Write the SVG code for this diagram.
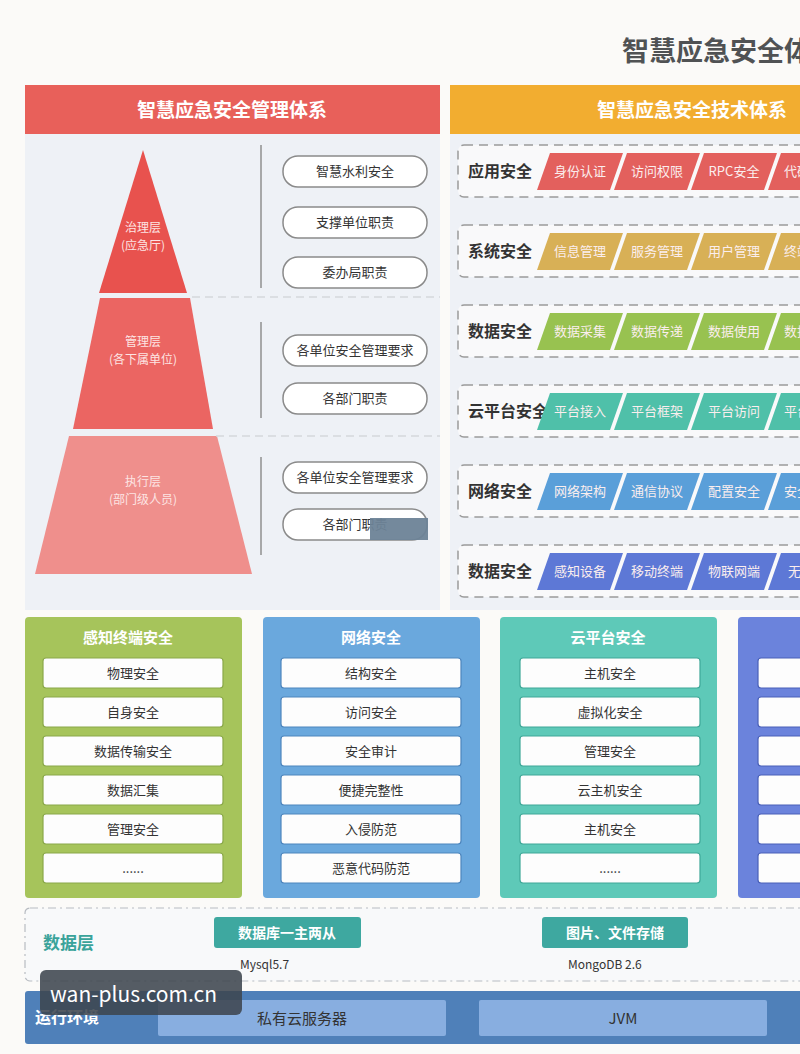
<svg xmlns="http://www.w3.org/2000/svg" width="800" height="1054" viewBox="0 0 800 1054">
<defs>
<style>
text{font-family:"Noto Sans CJK SC","Noto Sans",sans-serif;}
.hdr{font-size:19px;font-weight:bold;fill:#ffffff;text-anchor:middle;}
.pill{fill:#ffffff;stroke:#8a8a8a;stroke-width:1.5;}
.pt{font-size:13px;fill:#333;text-anchor:middle;}
.pyt{font-size:12px;fill:#fde4e3;text-anchor:middle;}
.vl{stroke:#8f8f8f;stroke-width:1.5;}
.hd{stroke:#d5d7dc;stroke-width:1.5;stroke-dasharray:8 5;}
.dbox{fill:#f9f9fa;stroke:#9a9a9a;stroke-width:1.5;stroke-dasharray:9 6;}
.rl{font-size:16px;font-weight:bold;fill:#333;}
.ct{font-size:13px;fill:#fbeeee;text-anchor:middle;}
.cs{font-size:13px;fill:#fbeeee;}
.ptl{font-size:15px;font-weight:bold;fill:#ffffff;text-anchor:middle;}
.ib{fill:#fdfdfd;stroke-width:1.2;}
.it{font-size:13px;fill:#333;text-anchor:middle;}
</style>
</defs>
<rect x="0" y="0" width="800" height="1054" fill="#fbfaf8"/>
<text x="622" y="61" font-size="27" font-weight="bold" fill="#505254">智慧应急安全体</text>

<!-- left management panel -->
<g id="mgmt-panel">
<rect x="25" y="134" width="415" height="476" fill="#eef1f6"/>
<rect x="25" y="85" width="415" height="49" fill="#e8605a"/>
<text x="232" y="117" class="hdr">智慧应急安全管理体系</text>
</g>
<g id="pyramid">
<polygon points="143,150 187,293 99,293" fill="#e8524e"/>
<polygon points="100,298 190,298 213,429 73,429" fill="#eb6562"/>
<polygon points="69,436 217,436 252,574 35,574" fill="#ef8f8c"/>
<text x="143" y="232" class="pyt">治理层</text>
<text x="143" y="250" class="pyt">(应急厅)</text>
<text x="143" y="346" class="pyt">管理层</text>
<text x="143" y="364" class="pyt">(各下属单位)</text>
<text x="143" y="486" class="pyt">执行层</text>
<text x="143" y="504" class="pyt">(部门级人员)</text>
</g>
<g id="dividers">
<line x1="261" y1="145" x2="261" y2="288" class="vl"/>
<line x1="261" y1="322" x2="261" y2="418" class="vl"/>
<line x1="261" y1="457" x2="261" y2="555" class="vl"/>
<line x1="192" y1="297" x2="440" y2="297" class="hd"/>
<line x1="216" y1="436" x2="440" y2="436" class="hd"/>
</g>
<g id="duties">
<rect x="283" y="156" width="144" height="31" rx="15" class="pill"/><text x="355" y="176" class="pt">智慧水利安全</text>
<rect x="283" y="207" width="144" height="31" rx="15" class="pill"/><text x="355" y="227" class="pt">支撑单位职责</text>
<rect x="283" y="257" width="144" height="31" rx="15" class="pill"/><text x="355" y="277" class="pt">委办局职责</text>
<rect x="283" y="335" width="144" height="31" rx="15" class="pill"/><text x="355" y="355" class="pt">各单位安全管理要求</text>
<rect x="283" y="383" width="144" height="31" rx="15" class="pill"/><text x="355" y="403" class="pt">各部门职责</text>
<rect x="283" y="462" width="144" height="31" rx="15" class="pill"/><text x="355" y="482" class="pt">各单位安全管理要求</text>
<rect x="283" y="509" width="144" height="31" rx="15" class="pill"/><text x="355" y="529" class="pt">各部门职责</text>
<rect x="370" y="518" width="58" height="22" fill="#6d8397" opacity="0.95"/>
</g>

<!-- right technical panel -->
<g id="tech-panel">
<rect x="450" y="134" width="350" height="476" fill="#eef1f6"/>
<rect x="450" y="85" width="350" height="49" fill="#f2ad30"/>
<text x="692" y="117" class="hdr">智慧应急安全技术体系</text>
</g>

<g id="row-app" transform="translate(0,145)">
<rect x="458" y="0" width="360" height="52" rx="6" class="dbox"/>
<text x="468" y="32" class="rl">应用安全</text>
<g fill="#e3605d"><polygon points="550,8 623,8 610,45 537,45"/><polygon points="627,8 700,8 687,45 614,45"/><polygon points="704,8 777,8 764,45 691,45"/><polygon points="781,8 854,8 841,45 768,45"/></g>
<text x="580" y="31" class="ct">身份认证</text><text x="657" y="31" class="ct">访问权限</text><text x="734" y="31" class="ct">RPC安全</text><text x="784" y="31" class="cs">代码</text>
</g>
<g id="row-sys" transform="translate(0,225)">
<rect x="458" y="0" width="360" height="52" rx="6" class="dbox"/>
<text x="468" y="32" class="rl">系统安全</text>
<g fill="#d8b056"><polygon points="550,8 623,8 610,45 537,45"/><polygon points="627,8 700,8 687,45 614,45"/><polygon points="704,8 777,8 764,45 691,45"/><polygon points="781,8 854,8 841,45 768,45"/></g>
<text x="580" y="31" class="ct">信息管理</text><text x="657" y="31" class="ct">服务管理</text><text x="734" y="31" class="ct">用户管理</text><text x="784" y="31" class="cs">终端</text>
</g>
<g id="row-data" transform="translate(0,305)">
<rect x="458" y="0" width="360" height="52" rx="6" class="dbox"/>
<text x="468" y="32" class="rl">数据安全</text>
<g fill="#98c250"><polygon points="550,8 623,8 610,45 537,45"/><polygon points="627,8 700,8 687,45 614,45"/><polygon points="704,8 777,8 764,45 691,45"/><polygon points="781,8 854,8 841,45 768,45"/></g>
<text x="580" y="31" class="ct">数据采集</text><text x="657" y="31" class="ct">数据传递</text><text x="734" y="31" class="ct">数据使用</text><text x="784" y="31" class="cs">数据</text>
</g>
<g id="row-cloud" transform="translate(0,385)">
<rect x="458" y="0" width="360" height="52" rx="6" class="dbox"/>
<text x="468" y="32" class="rl">云平台安全</text>
<g fill="#4fc0a9"><polygon points="550,8 623,8 610,45 537,45"/><polygon points="627,8 700,8 687,45 614,45"/><polygon points="704,8 777,8 764,45 691,45"/><polygon points="781,8 854,8 841,45 768,45"/></g>
<text x="580" y="31" class="ct">平台接入</text><text x="657" y="31" class="ct">平台框架</text><text x="734" y="31" class="ct">平台访问</text><text x="784" y="31" class="cs">平台</text>
</g>
<g id="row-net" transform="translate(0,465)">
<rect x="458" y="0" width="360" height="52" rx="6" class="dbox"/>
<text x="468" y="32" class="rl">网络安全</text>
<g fill="#5a9fd9"><polygon points="550,8 623,8 610,45 537,45"/><polygon points="627,8 700,8 687,45 614,45"/><polygon points="704,8 777,8 764,45 691,45"/><polygon points="781,8 854,8 841,45 768,45"/></g>
<text x="580" y="31" class="ct">网络架构</text><text x="657" y="31" class="ct">通信协议</text><text x="734" y="31" class="ct">配置安全</text><text x="784" y="31" class="cs">安全</text>
</g>
<g id="row-sense" transform="translate(0,545)">
<rect x="458" y="0" width="360" height="52" rx="6" class="dbox"/>
<text x="468" y="32" class="rl">数据安全</text>
<g fill="#5d78d6"><polygon points="550,8 623,8 610,45 537,45"/><polygon points="627,8 700,8 687,45 614,45"/><polygon points="704,8 777,8 764,45 691,45"/><polygon points="781,8 854,8 841,45 768,45"/></g>
<text x="580" y="31" class="ct">感知设备</text><text x="657" y="31" class="ct">移动终端</text><text x="734" y="31" class="ct">物联网端</text><text x="788" y="31" class="cs">无</text>
</g>

<!-- bottom panels -->
<g id="panel-terminal">
<rect x="25" y="617" width="217" height="281" rx="4" fill="#a6c45b"/>
<text x="128" y="643" class="ptl">感知终端安全</text>
<g stroke="#8aa84a">
<rect x="43" y="658" width="180" height="30" rx="3" class="ib"/>
<rect x="43" y="697" width="180" height="30" rx="3" class="ib"/>
<rect x="43" y="736" width="180" height="30" rx="3" class="ib"/>
<rect x="43" y="775" width="180" height="30" rx="3" class="ib"/>
<rect x="43" y="814" width="180" height="30" rx="3" class="ib"/>
<rect x="43" y="853" width="180" height="30" rx="3" class="ib"/>
</g>
<text x="133" y="678" class="it">物理安全</text>
<text x="133" y="717" class="it">自身安全</text>
<text x="133" y="756" class="it">数据传输安全</text>
<text x="133" y="795" class="it">数据汇集</text>
<text x="133" y="834" class="it">管理安全</text>
<text x="133" y="873" class="it">......</text>
</g>
<g id="panel-network">
<rect x="263" y="617" width="217" height="281" rx="4" fill="#6aa8dd"/>
<text x="371" y="643" class="ptl">网络安全</text>
<g stroke="#4d85bd">
<rect x="281" y="658" width="180" height="30" rx="3" class="ib"/>
<rect x="281" y="697" width="180" height="30" rx="3" class="ib"/>
<rect x="281" y="736" width="180" height="30" rx="3" class="ib"/>
<rect x="281" y="775" width="180" height="30" rx="3" class="ib"/>
<rect x="281" y="814" width="180" height="30" rx="3" class="ib"/>
<rect x="281" y="853" width="180" height="30" rx="3" class="ib"/>
</g>
<text x="371" y="678" class="it">结构安全</text>
<text x="371" y="717" class="it">访问安全</text>
<text x="371" y="756" class="it">安全审计</text>
<text x="371" y="795" class="it">便捷完整性</text>
<text x="371" y="834" class="it">入侵防范</text>
<text x="371" y="873" class="it">恶意代码防范</text>
</g>
<g id="panel-cloud">
<rect x="500" y="617" width="217" height="281" rx="4" fill="#5ec9b8"/>
<text x="608" y="643" class="ptl">云平台安全</text>
<g stroke="#3fa898">
<rect x="520" y="658" width="180" height="30" rx="3" class="ib"/>
<rect x="520" y="697" width="180" height="30" rx="3" class="ib"/>
<rect x="520" y="736" width="180" height="30" rx="3" class="ib"/>
<rect x="520" y="775" width="180" height="30" rx="3" class="ib"/>
<rect x="520" y="814" width="180" height="30" rx="3" class="ib"/>
<rect x="520" y="853" width="180" height="30" rx="3" class="ib"/>
</g>
<text x="610" y="678" class="it">主机安全</text>
<text x="610" y="717" class="it">虚拟化安全</text>
<text x="610" y="756" class="it">管理安全</text>
<text x="610" y="795" class="it">云主机安全</text>
<text x="610" y="834" class="it">主机安全</text>
<text x="610" y="873" class="it">......</text>
</g>
<g id="panel-fourth">
<rect x="738" y="617" width="217" height="281" rx="4" fill="#6b83dc"/>
<g stroke="#4a60b8">
<rect x="758" y="658" width="180" height="30" rx="3" class="ib"/>
<rect x="758" y="697" width="180" height="30" rx="3" class="ib"/>
<rect x="758" y="736" width="180" height="30" rx="3" class="ib"/>
<rect x="758" y="775" width="180" height="30" rx="3" class="ib"/>
<rect x="758" y="814" width="180" height="30" rx="3" class="ib"/>
<rect x="758" y="853" width="180" height="30" rx="3" class="ib"/>
</g>
</g>

<!-- data layer -->
<g id="data-layer">
<rect x="25" y="908" width="800" height="73" rx="5" fill="#f8f9fa" stroke="#b8bcc2" stroke-width="1.2" stroke-dasharray="8 4 2 4"/>
<text x="43" y="949" font-size="17" font-weight="bold" fill="#3aa39a">数据层</text>
<rect x="214" y="917" width="147" height="31" rx="3" fill="#3ea8a0"/>
<text x="287" y="938" font-size="14" font-weight="bold" fill="#ffffff" text-anchor="middle">数据库一主两从</text>
<text x="240" y="969" font-size="12" fill="#333">Mysql5.7</text>
<rect x="542" y="917" width="146" height="31" rx="3" fill="#3ea8a0"/>
<text x="615" y="938" font-size="14" font-weight="bold" fill="#ffffff" text-anchor="middle">图片、文件存储</text>
<text x="568" y="969" font-size="12" fill="#333">MongoDB 2.6</text>
</g>

<!-- runtime -->
<g id="runtime">
<rect x="25" y="991" width="780" height="53" rx="3" fill="#4f80b9"/>
<text x="35" y="1023" font-size="16" font-weight="bold" fill="#ffffff">运行环境</text>
<rect x="158" y="1000" width="288" height="36" rx="2" fill="#88aee0"/>
<text x="302" y="1024" font-size="15" fill="#333" text-anchor="middle">私有云服务器</text>
<rect x="479" y="1000" width="288" height="36" rx="2" fill="#88aee0"/>
<text x="623" y="1024" font-size="15" fill="#333" text-anchor="middle">JVM</text>
</g>

<g id="watermark">
<rect x="40" y="970" width="202" height="45" rx="6" fill="#3e464f" opacity="0.88"/>
<text x="50" y="1002" font-size="21" fill="#ffffff" font-family="DejaVu Sans, sans-serif">wan-plus.com.cn</text>
</g>
</svg>
